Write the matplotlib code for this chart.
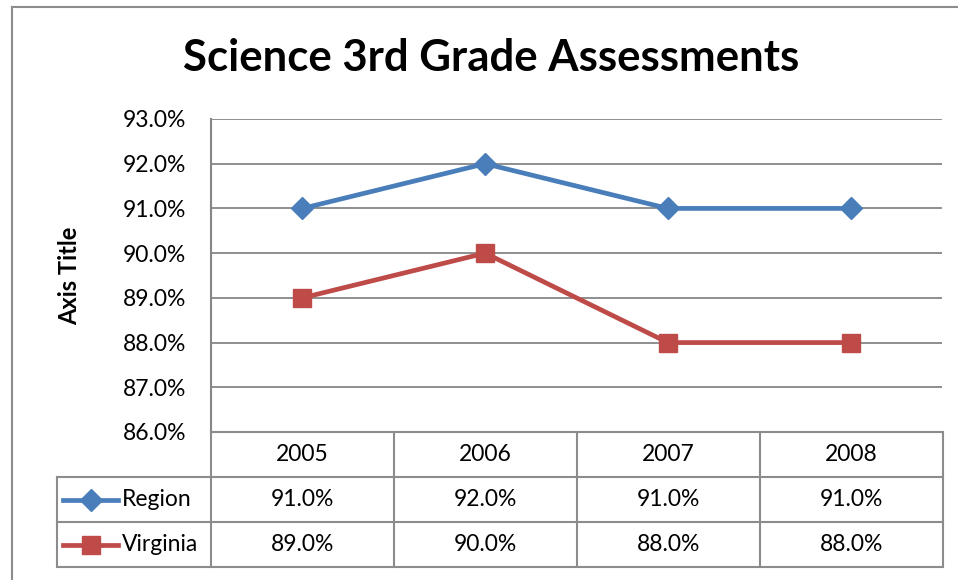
import numpy as np
import matplotlib.pyplot as plt
from matplotlib.lines import Line2D

years = ['2005', '2006', '2007', '2008']
region = [91.0, 92.0, 91.0, 91.0]
virginia = [89.0, 90.0, 88.0, 88.0]
series_names = ['Region', 'Virginia']
yticks = [86, 87, 88, 89, 90, 91, 92, 93]

blue = '#4A7EBB'
red = '#BE4B48'
grid_c = '#868686'
font = 'Lato'
fs = 16.5

W, H = 958, 580
fig = plt.figure(figsize=(W / 100, H / 100), dpi=100)

def box(l, t, r, b):  # pixel box -> figure fraction
    return [l / W, 1 - b / H, (r - l) / W, (b - t) / H]

# outer chart border
fig.add_artist(Line2D([12 / W, 12 / W], [0, 1 - 7 / H], color='#8c8c8c', lw=1.5))
fig.add_artist(Line2D([12 / W, 1], [1 - 7 / H, 1 - 7 / H], color='#8c8c8c', lw=1.5))

fig.text(491 / W, 1 - 58 / H, 'Science 3rd Grade Assessments', ha='center', va='center',
         fontsize=31.5, fontweight='bold', family=font)

ax = fig.add_axes(box(211, 119, 942, 432))
x = np.arange(len(years))
ax.plot(x, region, color=blue, lw=3.4, marker='D', ms=11, zorder=3)
ax.plot(x, virginia, color=red, lw=3.4, marker='s', ms=13, zorder=3)
ax.set_xlim(-0.5, len(years) - 0.5)
ax.set_ylim(86, 93)
ax.set_yticks(yticks)
ax.set_yticklabels(['%.1f%%' % v for v in yticks], family=font, fontsize=fs)
ax.set_xticks([])
ax.grid(axis='y', color=grid_c, lw=1.3)
ax.set_axisbelow(True)
for s in ['top', 'right', 'bottom']:
    ax.spines[s].set_visible(False)
ax.spines['left'].set_color(grid_c)
ax.spines['left'].set_linewidth(1.5)
ax.tick_params(axis='y', length=0, pad=18)
ax.set_ylabel('Axis Title', family=font, fontsize=17, fontweight='bold', labelpad=30)

# data table
tx = fig.add_axes(box(57, 432, 943, 567))
unit = (942 - 211) / len(years)
leg_w = 154 / unit
tx.set_xlim(-0.5 - leg_w, len(years) - 0.5)
tx.set_ylim(3, 0)
tx.axis('off')
lc = '#8c8c8c'
# horizontal lines
tx.plot([-0.5, len(years) - 0.5], [0, 0], color=lc, lw=1.5, clip_on=False)
for yy in [1, 2, 3]:
    tx.plot([-0.5 - leg_w, len(years) - 0.5], [yy, yy], color=lc, lw=1.5, clip_on=False)
# vertical lines
for i in range(len(years) + 1):
    tx.plot([i - 0.5, i - 0.5], [0, 3], color=lc, lw=1.5, clip_on=False)
tx.plot([-0.5 - leg_w, -0.5 - leg_w], [1, 3], color=lc, lw=1.5, clip_on=False)

for i, yr in enumerate(years):
    tx.text(i, 0.5, yr, ha='center', va='center', family=font, fontsize=fs)
for r, (name, vals, c, m, ms) in enumerate([(series_names[0], region, blue, 'D', 11),
                                             (series_names[1], virginia, red, 's', 13)]):
    yy = r + 1.5
    for i, v in enumerate(vals):
        tx.text(i, yy, '%.1f%%' % v, ha='center', va='center', family=font, fontsize=fs)
    x0 = -0.5 - leg_w + 6 / unit
    x1 = -0.5 - leg_w + 61 / unit
    tx.plot([x0, x1], [yy, yy], color=c, lw=3.4, clip_on=False)
    tx.plot([(x0 + x1) / 2], [yy], color=c, marker=m, ms=ms, clip_on=False)
    tx.text(x1 + 4 / unit, yy, name, ha='left', va='center', family=font, fontsize=fs)

fig.savefig('out.png', dpi=100)
